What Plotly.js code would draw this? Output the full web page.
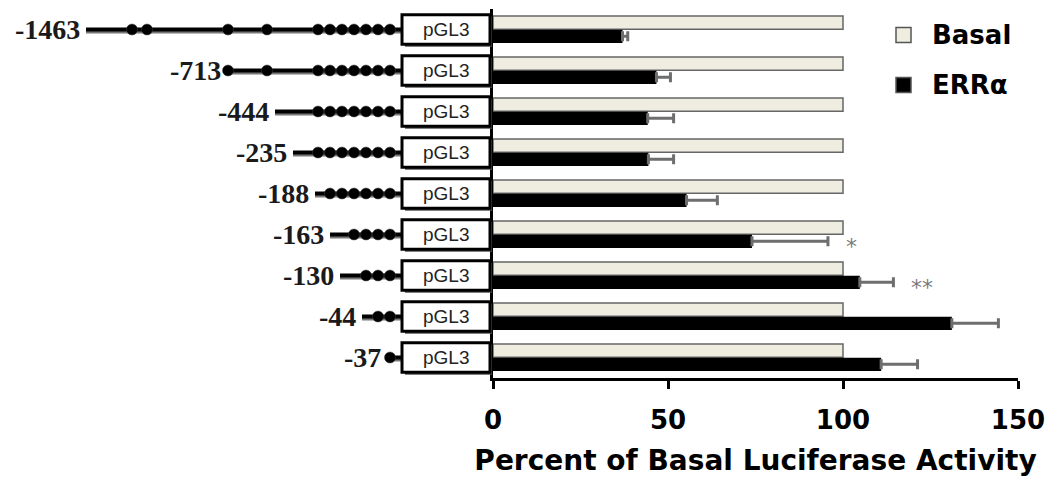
<!DOCTYPE html>
<html>
<head>
<meta charset="utf-8">
<script src="https://cdn.plot.ly/plotly-3.0.1.min.js"></script>
<style>
  html, body { margin: 0; padding: 0; background: #fff; }
  #grafik { width: 1050px; height: 490px; }
</style>
</head>
<body>
<div id="grafik"></div>
<script>
/* ==========================================================
   DATA
========================================================== */
const konstruk = ["-1463", "-713", "-444", "-235", "-188", "-163", "-130", "-44", "-37"];
const basal = [100, 100, 100, 100, 100, 100, 100, 100, 100];
const erra = [37, 46.7, 44.2, 44.4, 55.3, 74.0, 104.8, 131.1, 110.9];
const erraSE = [1.5, 4.0, 7.4, 7.2, 8.8, 21.7, 9.6, 13.3, 10.4];
const signifikan = ["", "", "", "", "", "*", "**", "", ""];
const namaSeri = ["Basal", "ERRα"];

// skema promoter (posisi skematis, bukan skala bp)
const awalGaris = [86, 227, 275, 293, 315, 330, 340, 362, 387];
const titikRE = [
  [132, 147, 228, 267, 318, 330, 342, 354, 366, 378, 390],
  [228, 267, 318, 330, 342, 354, 366, 378, 390],
  [318, 330, 342, 354, 366, 378, 390],
  [318, 330, 342, 354, 366, 378, 390],
  [330, 342, 354, 366, 378, 390],
  [354, 366, 378, 390],
  [366, 378, 390],
  [378, 390],
  [390]
];

const FONT_SANS = "DejaVu Sans, Arial, sans-serif";
const BOX_X0 = 402, BOX_X1 = 490;

/* ==========================================================
   TRACES
========================================================== */
const traceBasal = {
  type: "bar",
  orientation: "h",
  name: namaSeri[0],
  y: konstruk,
  x: basal,
  marker: { color: "#eeede0", line: { color: "#666", width: 1.5 } },
  showlegend: false
};

const traceErra = {
  type: "bar",
  orientation: "h",
  name: namaSeri[1],
  y: konstruk,
  x: erra,
  marker: { color: "#000" },
  error_x: {
    type: "data",
    symmetric: false,
    array: erraSE,
    arrayminus: erraSE.map(() => 0),
    color: "#6e6e6e",
    thickness: 3,
    width: 5
  },
  showlegend: false
};

// titik elemen respons pada skema
let titikX = [];
let titikY = [];
titikRE.forEach((baris, i) => {
  baris.forEach(px => {
    titikX.push(px);
    titikY.push(konstruk[i]);
  });
});

const traceTitik = {
  type: "scatter",
  mode: "markers",
  xaxis: "x2",
  yaxis: "y",
  x: titikX,
  y: titikY,
  marker: { symbol: "circle", size: 11, color: "#000", line: { color: "#444", width: 0.5 } },
  hoverinfo: "skip",
  showlegend: false
};

/* ==========================================================
   SHAPES + ANNOTATIONS
========================================================== */
let shapes = [];
let annotations = [];

konstruk.forEach((nama, i) => {
  // garis promoter + bayangan
  shapes.push({
    type: "line", xref: "x2", yref: "y", layer: "below",
    x0: awalGaris[i], x1: BOX_X0, y0: i + 0.06, y1: i + 0.06,
    line: { color: "#777", width: 3 }
  });
  shapes.push({
    type: "line", xref: "x2", yref: "y", layer: "below",
    x0: awalGaris[i], x1: BOX_X0, y0: i, y1: i,
    line: { color: "#000", width: 4 }
  });

  // kotak pGL3
  shapes.push({
    type: "rect", xref: "x2", yref: "y",
    x0: BOX_X0 + 3, x1: BOX_X1 + 2, y0: i - 0.31, y1: i + 0.42,
    line: { width: 0 }, fillcolor: "#555"
  });
  shapes.push({
    type: "rect", xref: "x2", yref: "y",
    x0: BOX_X0, x1: BOX_X1, y0: i - 0.36, y1: i + 0.36,
    line: { color: "#000", width: 3 }, fillcolor: "#fff"
  });

  annotations.push({
    xref: "x2", yref: "y", x: (BOX_X0 + BOX_X1) / 2, y: i,
    text: "pGL3", showarrow: false,
    font: { family: "Liberation Sans, Arial, sans-serif", size: 19, color: "#222" }
  });

  // label konstruk
  annotations.push({
    xref: "x2", yref: "y", x: awalGaris[i] - 4, y: i,
    xanchor: "right", yanchor: "middle", text: nama, showarrow: false,
    font: { family: "Liberation Serif, Times New Roman, serif", size: 28, weight: "bold", color: "#1a1a1a" }
  });

  // tanda signifikansi
  if (signifikan[i]) {
    annotations.push({
      xref: "x", yref: "y", x: erra[i] + erraSE[i] + 4.5, y: i + 0.3,
      xanchor: "left", yanchor: "middle", text: signifikan[i], showarrow: false,
      font: { family: FONT_SANS, size: 22, color: "#7a7a7a" }
    });
  }
});

// legenda manual (paper = area plot, tinggi 369 px mulai y=9)
const warnaLegenda = ["#eeede0", "#000"];
namaSeri.forEach((nama, k) => {
  const yc = 1 - (35 + k * 50 - 9) / 369;
  shapes.push({
    type: "rect", xref: "paper", yref: "paper",
    x0: 896 / 1050, x1: 911 / 1050, y0: yc - 7.5 / 369, y1: yc + 7.5 / 369,
    fillcolor: warnaLegenda[k], line: { color: "#555", width: 1.5 }
  });
  annotations.push({
    xref: "paper", yref: "paper", x: 930 / 1050, y: yc,
    xanchor: "left", yanchor: "middle", text: nama, showarrow: false,
    font: { family: FONT_SANS, size: 26, weight: "bold", color: "#000" }
  });
});

/* ==========================================================
   LAYOUT
========================================================== */
const layout = {
  width: 1050,
  height: 490,
  margin: { l: 0, r: 0, t: 9, b: 112 },
  paper_bgcolor: "#fff",
  plot_bgcolor: "#fff",
  barmode: "group",
  bargap: 0.33,
  bargroupgap: 0.04,
  showlegend: false,
  xaxis: {
    domain: [493 / 1050, 1018 / 1050],
    range: [0, 150],
    dtick: 50,
    showgrid: false,
    zeroline: false,
    showline: true,
    linecolor: "#000",
    linewidth: 3,
    ticks: "outside",
    ticklen: 8,
    tickwidth: 3,
    tickcolor: "#000",
    ticklabelstandoff: 9,
    tickfont: { family: FONT_SANS, size: 26, weight: "bold", color: "#000" },
    title: {
      text: "Percent of Basal Luciferase Activity",
      standoff: 17,
      font: { family: FONT_SANS, size: 28, weight: "bold", color: "#000" }
    },
    automargin: false
  },
  xaxis2: {
    domain: [0, 493 / 1050],
    range: [0, 493],
    anchor: "y",
    visible: false,
    fixedrange: true
  },
  yaxis: {
    type: "category",
    range: [8.5, -0.5],
    showgrid: false,
    zeroline: false,
    showline: true,
    linecolor: "#000",
    linewidth: 3,
    ticks: "",
    showticklabels: false,
    automargin: false
  },
  shapes: shapes,
  annotations: annotations
};

Plotly.newPlot("grafik", [traceBasal, traceErra, traceTitik], layout, {
  displayModeBar: false,
  staticPlot: true
});
</script>
</body>
</html>
